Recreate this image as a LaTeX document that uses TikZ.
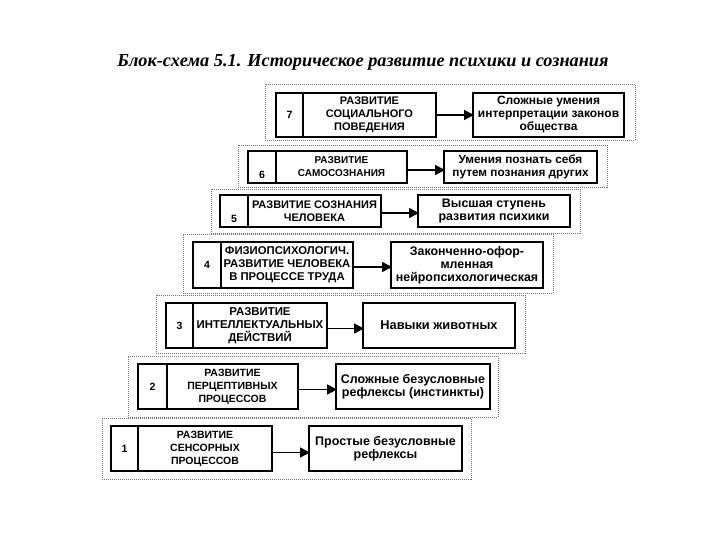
\documentclass[tikz,border=0pt]{standalone}
\usepackage{fontspec}
\setmainfont{Liberation Serif}
\newfontfamily\boxfont{Liberation Sans}
\usetikzlibrary{arrows.meta}
\newcommand{\fs}[1]{\boxfont\bfseries\fontsize{#1}{13}\selectfont}
\tikzset{
  frameb/.style={draw=black!55, line width=0.8pt, dash pattern=on 1pt off 1pt, anchor=north west, inner sep=0pt, outer sep=0pt},
  cellb/.style={draw=black, line width=1.7pt, anchor=north west, inner sep=0pt, outer sep=0pt, align=center, font=\fs{10.5}},
  rightb/.style={cellb, font=\fs{12}},
  numb/.style={font=\boxfont\bfseries\fontsize{10.5}{12}\selectfont, inner sep=0pt},
  arr/.style={line width=1.5pt, -{Triangle[length=10pt,width=10pt]}, shorten >=-1pt},
  ttl/.style={font=\bfseries\itshape\fontsize{18.3}{20}\selectfont, inner sep=0pt}
}
\begin{document}
\begin{tikzpicture}[x=1pt,y=-1pt]
\useasboundingbox[fill=white] (0,0) rectangle (720,540);
\node[ttl] (title) at (363,62) {Блок-схема 5.1. Историческое развитие психики и сознания};
% level 7
\node[frameb, minimum width=370, minimum height=56] (f7) at (265,84) {};
\node[cellb, minimum width=27, minimum height=44] (n7) at (276,93) {};
\node[numb] at (n7.center) {7};
\node[cellb, minimum width=133, minimum height=44, font=\fs{11}] (t7) at (303,93) {РАЗВИТИЕ\\СОЦИАЛЬНОГО\\ПОВЕДЕНИЯ};
\node[rightb, minimum width=151, minimum height=44] (r7) at (473,93) {Сложные умения\\интерпретации законов\\общества};
\draw[arr] (t7.east) -- (r7.west);
% level 6
\node[frameb, minimum width=369, minimum height=42] (f6) at (238,145) {};
\node[cellb, minimum width=28, minimum height=32] (n6) at (248,151) {};
\node[numb, anchor=south] at ([yshift=4pt]n6.south) {6};
\node[cellb, minimum width=131, minimum height=32, font=\fs{10}] (t6) at (276,151) {РАЗВИТИЕ\\САМОСОЗНАНИЯ};
\node[rightb, minimum width=153, minimum height=32, font=\fs{11.8}] (r6) at (444,151) {Умения познать себя\\путем познания других};
\draw[arr] ([yshift=-3pt]t6.east) -- ([yshift=-3pt]r6.west);
% level 5
\node[frameb, minimum width=369, minimum height=44] (f5) at (211,189) {};
\node[cellb, minimum width=28, minimum height=32] (n5) at (220,195) {};
\node[numb, anchor=south] at ([yshift=4pt]n5.south) {5};
\node[cellb, minimum width=133, minimum height=32, font=\fs{11}] (t5) at (248,195) {РАЗВИТИЕ СОЗНАНИЯ\\ЧЕЛОВЕКА};
\node[rightb, minimum width=152, minimum height=32, font=\fs{12.4}] (r5) at (418,195) {Высшая ступень\\развития психики};
\draw[arr] ([yshift=-2pt]t5.east) -- ([yshift=-2pt]r5.west);
% level 4
\node[frameb, minimum width=370, minimum height=59] (f4) at (183,234) {};
\node[cellb, minimum width=28, minimum height=46] (n4) at (193,242) {};
\node[numb] at (n4.center) {4};
\node[cellb, minimum width=132, minimum height=46, font=\fs{11.3}] (t4) at (221,242) {ФИЗИОПСИХОЛОГИЧ.\\РАЗВИТИЕ ЧЕЛОВЕКА\\В ПРОЦЕССЕ ТРУДА};
\node[rightb, minimum width=152, minimum height=46, font=\fs{12.4}] (r4) at (391,242) {Законченно-офор-\\мленная\\нейропсихологическая};
\draw[arr] ([yshift=-2pt]t4.east) -- ([yshift=-2pt]r4.west);
% level 3
\node[frameb, minimum width=369, minimum height=58] (f3) at (156,295) {};
\node[cellb, minimum width=27, minimum height=45] (n3) at (166,303) {};
\node[numb] at (n3.center) {3};
\node[cellb, minimum width=134, minimum height=45, font=\fs{11.4}] (t3) at (193,303) {РАЗВИТИЕ\\ИНТЕЛЛЕКТУАЛЬНЫХ\\ДЕЙСТВИЙ};
\node[rightb, minimum width=152, minimum height=45, font=\fs{12.8}] (r3) at (363,303) {Навыки животных};
\draw[arr] ([yshift=-3pt]t3.east) -- ([yshift=-3pt]r3.west);
% level 2
\node[frameb, minimum width=370, minimum height=61] (f2) at (128,356) {};
\node[cellb, minimum width=29, minimum height=45] (n2) at (138,364) {};
\node[numb] at (n2.center) {2};
\node[cellb, minimum width=131, minimum height=45] (t2) at (167,364) {РАЗВИТИЕ\\ПЕРЦЕПТИВНЫХ\\ПРОЦЕССОВ};
\node[rightb, minimum width=154, minimum height=45, font=\fs{12.5}] (r2) at (336,364) {Сложные безусловные\\рефлексы (инстинкты)};
\draw[arr] ([yshift=-3pt]t2.east) -- ([yshift=-3pt]r2.west);
% level 1
\node[frameb, minimum width=369, minimum height=61] (f1) at (102,418) {};
\node[cellb, minimum width=27, minimum height=45] (n1) at (111,426) {};
\node[numb] at (n1.center) {1};
\node[cellb, minimum width=134, minimum height=45] (t1) at (138,426) {РАЗВИТИЕ\\СЕНСОРНЫХ\\ПРОЦЕССОВ};
\node[rightb, minimum width=153, minimum height=45, font=\fs{12.5}] (r1) at (309,426) {Простые безусловные\\рефлексы};
\draw[arr] ([yshift=-4pt]t1.east) -- ([yshift=-4pt]r1.west);
\end{tikzpicture}
\end{document}
